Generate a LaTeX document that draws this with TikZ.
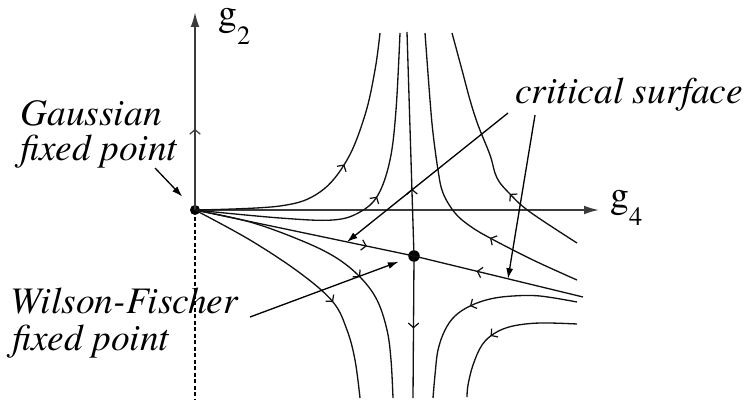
\documentclass[tikz,border=0pt]{standalone}
\usepackage{fontspec}
\setmainfont{texgyretermes}[Extension=.otf, UprightFont=*-regular, ItalicFont=*-italic, BoldFont=*-bold, BoldItalicFont=*-bolditalic]
\usetikzlibrary{arrows.meta, decorations.markings, calc}
\definecolor{AxisGrey}{HTML}{3C3C3C}
\definecolor{FlowBlack}{HTML}{111111}
\newcommand{\gaxis}[1]{g\raisebox{-10.5pt}{\fontsize{15}{15}\selectfont #1}}

\begin{document}
\begin{tikzpicture}[
    x=0.02cm, y=-0.02cm,
    flowline/.style={line width=0.75pt, FlowBlack},
    flowat/.style={postaction={decorate, decoration={markings, mark=at position #1 with {\arrow{Straight Barb[length=2.6pt, width=6pt, line width=0.7pt]}}}}},
    axis/.style={line width=1.1pt, AxisGrey, -{Latex[length=8.5pt, width=5pt]}},
    annot/.style={line width=0.75pt, -{Latex[length=6pt, width=4pt]}},
    lbl/.style={anchor=base west, inner sep=0pt, font=\itshape\fontsize{21.3}{24}\selectfont},
    axlbl/.style={anchor=base west, inner sep=0pt, font=\upshape\fontsize{21.3}{24}\selectfont},
    fixpt/.style={circle, fill=black, inner sep=0pt, minimum size=0.2cm}
  ]
  \useasboundingbox (0,0) rectangle (749,402);

  % Fixed points and ends
  \node[fixpt] (gauss) at (195,210) {};
  \node[fixpt, minimum size=0.23cm] (wf) at (414,256) {};
  \coordinate (g2tip) at (195,12);
  \coordinate (g4tip) at (599,210);
  \coordinate (g2low) at (195,400);
  \coordinate (csend) at (583,297);
  \coordinate (septop) at (407,32);
  \coordinate (sepbot) at (413,398);

  % Labels
  \node[axlbl] (g2lbl) at (218,26) {\gaxis{2}};
  \node[axlbl] (g4lbl) at (610,207) {\gaxis{4}};
  \node[lbl] (gausslbl) at (20,125) {Gaussian};
  \node[lbl] (gaussfp) at (20,160) {fixed point};
  \node[lbl] (critlbl) at (515,103) {critical surface};
  \node[lbl] (wflbl) at (10,313) {Wilson-Fischer};
  \node[lbl] (wffp) at (12,350) {fixed point};

  % Axes
  \draw[dashed, line width=0.6pt, dash pattern=on 2.5pt off 1.2pt] (gauss.center) -- (g2low);
  \draw[axis, flowat=0.41] (gauss.center) -- (g2tip);
  \draw[axis] (gauss.center) -- (g4tip);

  % Separatrices
  \draw[flowline, flowat=0.785] (gauss.center) -- (wf.center);
  \draw[flowline, flowat=0.63] (csend) -- (wf.center);
  \draw[flowline, flowat=0.30] (wf.center) -- (septop);
  \draw[flowline, flowat=0.51] (wf.center) -- (sepbot);

  % Flow lines
  \draw[flowline, flowat=0.546] plot[smooth, tension=0.6] coordinates {(195,210) (280,206) (320,192) (347,160) (365,115) (375,70) (380,33)};
  \draw[flowline, flowat=0.533] plot[smooth, tension=0.6] coordinates {(195,210) (280,218) (333,220) (360,212) (378,195) (390,160) (396,110) (400,33)};
  \draw[flowline, flowat=0.584] plot[smooth, tension=0.6] coordinates {(195,210) (250,222) (300,240) (335,257) (360,277) (377,300) (387,330) (391,360) (393,398)};
  \draw[flowline, flowat=0.623] plot[smooth, tension=0.6] coordinates {(195,210) (250,240) (300,273) (333,302) (347,330) (355,360) (360,398)};
  \draw[flowline, flowat=0.298] plot[smooth, tension=0.6] coordinates {(577,280) (533,260) (490,238) (470,226) (455,213) (443,193) (438,170) (433,133) (430,100) (425,33)};
  \draw[flowline, flowat=0.326] plot[smooth, tension=0.6] coordinates {(577,243) (530,212) (510,194) (497,178) (490,155) (478,125) (470,100) (462,70) (452,33)};
  \draw[flowline, flowat=0.51] plot[smooth, tension=0.6] coordinates {(577,302) (540,296) (513,296) (490,299) (470,306) (455,316) (445,330) (438,350) (435,375) (433,398)};
  \draw[flowline, flowat=0.57] plot[smooth, tension=0.6] coordinates {(577,324) (540,323) (513,326) (495,333) (482,345) (473,365) (468,385) (467,397)};

  % Annotations
  \coordinate (gaussarr) at (155,168);
  \coordinate (cs1start) at (508,113);
  \coordinate (cs2start) at (535,115);
  \coordinate (wfarr) at (250,317);
  \coordinate (cs1) at ($(gauss.center)!0.694!(wf.center)$);
  \coordinate (cs2) at ($(wf.center)!0.556!(csend)$);
  \draw[annot, shorten >=7.5pt] (gaussarr) -- (gauss);
  \draw[annot] (cs1start) -- (cs1);
  \draw[annot] (cs2start) -- (cs2);
  \draw[annot, shorten >=6pt] (wfarr) -- (wf);
\end{tikzpicture}
\end{document}
